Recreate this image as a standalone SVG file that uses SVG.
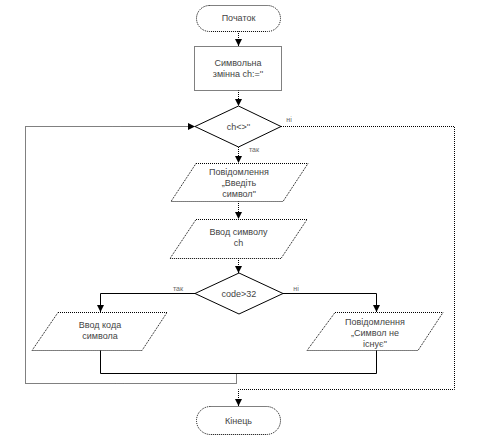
<svg xmlns="http://www.w3.org/2000/svg" width="480" height="438" viewBox="0 0 480 438">
<style>
  .shape { fill: #ffffff; stroke: #000; stroke-width: 1; }
  .dot { stroke-dasharray: 1 1; }
  .solid { fill: none; stroke: #000; stroke-width: 1; }
  .dline { fill: none; stroke: #000; stroke-width: 1; stroke-dasharray: 1 1; }
  text { font-family: "Liberation Sans", Arial, sans-serif; font-size: 9px; fill: #444; text-anchor: middle; }
  .lbl { font-size: 7px; fill: #666; }
</style>
<defs>
  <marker id="arr" viewBox="0 0 8 8" refX="8" refY="4" markerWidth="7" markerHeight="7" markerUnits="userSpaceOnUse" orient="auto">
    <path d="M0,0 L8,4 L0,8 Z" fill="#000"/>
  </marker>
</defs>
<rect width="480" height="438" fill="#ffffff"/>

<g id="connectors">
  <path class="dline" d="M238.5,31 V46" marker-end="url(#arr)"/>
  <path class="dline" d="M238.5,90 V106" marker-end="url(#arr)"/>
  <path class="dline" d="M238.5,147 V163" marker-end="url(#arr)"/>
  <path class="dline" d="M238.5,201 V219" marker-end="url(#arr)"/>
  <path class="dline" d="M238.5,258 V273" marker-end="url(#arr)"/>
  <path class="solid" d="M195,293.5 H100.5 V312" marker-end="url(#arr)"/>
  <path class="solid" d="M283,293.5 H376.5 V312" marker-end="url(#arr)"/>
  <path class="solid" d="M100.5,350 V373.5 H376.5 V350"/>
  <path class="dline" d="M236.5,373.5 V383.5 H25.5 V126.5 H195" marker-end="url(#arr)"/>
  <path class="dline" d="M281,126.5 H454.5 V389.5 H238.5 V406" marker-end="url(#arr)"/>
  <text class="lbl" x="289" y="122">ні</text>
  <text class="lbl" x="254" y="152">так</text>
  <text class="lbl" x="178" y="291">так</text>
  <text class="lbl" x="296" y="291">ні</text>
</g>

<g id="start">
  <rect class="shape dot" x="196.5" y="5.5" width="84" height="26" rx="13" ry="13"/>
  <text x="238.5" y="21">Початок</text>
</g>

<g id="init">
  <rect class="shape dot" x="194.5" y="46.5" width="87" height="44"/>
  <text x="238" y="66">Символьна</text>
  <text x="238" y="77">змінна ch:=''</text>
</g>

<g id="cond1">
  <polygon class="shape" points="238.5,106 281,126.5 238.5,147 195,126.5"/>
  <text x="238.5" y="130">ch&lt;&gt;''</text>
</g>

<g id="msg1">
  <polygon class="shape dot" points="196,163.5 308,163.5 283,201.5 171,201.5"/>
  <text x="239" y="175">Повідомлення</text>
  <text x="239" y="186">„Введіть</text>
  <text x="239" y="197">символ"</text>
</g>

<g id="input">
  <polygon class="shape dot" points="196,219.5 307,219.5 281,258.5 170,258.5"/>
  <text x="238.5" y="235">Ввод символу</text>
  <text x="238.5" y="246">ch</text>
</g>

<g id="cond2">
  <polygon class="shape" points="239,273 283,293.5 239,314 195,293.5"/>
  <text x="239" y="297">code&gt;32</text>
</g>

<g id="code">
  <polygon class="shape dot" points="58,312.5 167,312.5 142,350.5 32,350.5"/>
  <text x="100" y="328">Ввод кода</text>
  <text x="100" y="339">символа</text>
</g>

<g id="msg2">
  <polygon class="shape dot" points="335,312.5 443,312.5 418,350.5 307,350.5"/>
  <text x="375" y="325">Повідомлення</text>
  <text x="375" y="336">„Символ не</text>
  <text x="375" y="347">існує"</text>
</g>

<g id="end">
  <rect class="shape dot" x="196.5" y="406.5" width="84" height="28" rx="14" ry="14"/>
  <text x="238.5" y="424">Кінець</text>
</g>
</svg>
